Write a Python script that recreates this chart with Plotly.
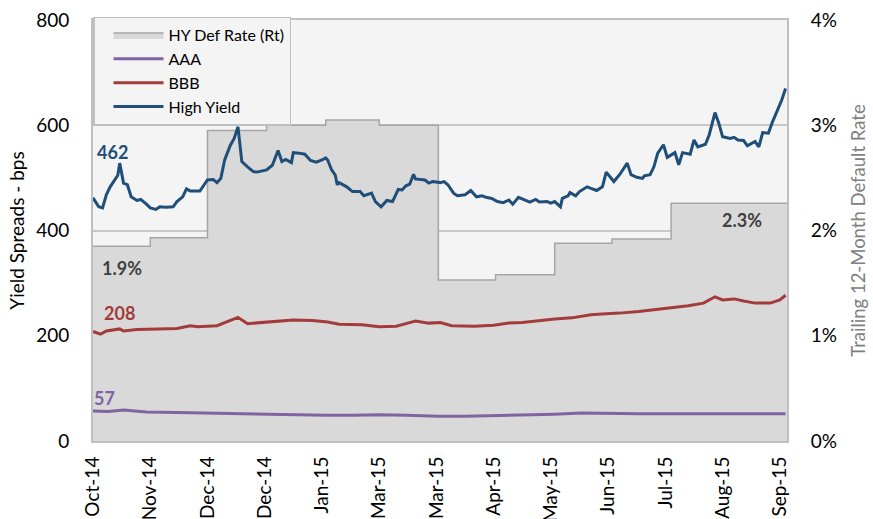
import plotly.graph_objects as go

# ---------------- data ----------------
hy_dates = ["2014-10-02","2014-10-05","2014-10-07","2014-10-09","2014-10-11","2014-10-13","2014-10-15","2014-10-16",
            "2014-10-18","2014-10-20","2014-10-22","2014-10-25","2014-10-27","2014-10-30","2014-11-01","2014-11-04",
            "2014-11-06","2014-11-09","2014-11-13","2014-11-15","2014-11-18","2014-11-20","2014-11-22","2014-11-27",
            "2014-12-01","2014-12-04","2014-12-06","2014-12-08","2014-12-10","2014-12-13","2014-12-15","2014-12-17",
            "2014-12-19","2014-12-22","2014-12-25","2014-12-27","2015-01-01","2015-01-04","2015-01-07","2015-01-09",
            "2015-01-11","2015-01-14","2015-01-15","2015-01-18","2015-01-21","2015-01-24","2015-01-27","2015-01-30",
            "2015-02-01","2015-02-02","2015-02-04","2015-02-06","2015-02-07","2015-02-08","2015-02-12","2015-02-15",
            "2015-02-19","2015-02-21","2015-02-25","2015-02-27","2015-03-02","2015-03-05","2015-03-08","2015-03-11",
            "2015-03-13","2015-03-15","2015-03-17","2015-03-19","2015-03-20","2015-03-25","2015-03-27","2015-03-29",
            "2015-04-02","2015-04-04","2015-04-06","2015-04-09","2015-04-11","2015-04-15","2015-04-18","2015-04-21",
            "2015-04-24","2015-04-26","2015-04-29","2015-05-02","2015-05-05","2015-05-08","2015-05-10","2015-05-13",
            "2015-05-16","2015-05-19","2015-05-22","2015-05-24","2015-05-28","2015-05-30","2015-06-01","2015-06-04",
            "2015-06-05","2015-06-08","2015-06-09","2015-06-12","2015-06-14","2015-06-18","2015-06-20","2015-06-23",
            "2015-06-26","2015-06-28","2015-07-02","2015-07-05","2015-07-09","2015-07-11","2015-07-14","2015-07-17",
            "2015-07-18","2015-07-21","2015-07-23","2015-07-25","2015-07-28","2015-07-30","2015-08-03","2015-08-05",
            "2015-08-07","2015-08-11","2015-08-13","2015-08-15","2015-08-19","2015-08-21","2015-08-24","2015-08-26",
            "2015-08-28","2015-09-01","2015-09-03","2015-09-05","2015-09-08","2015-09-10","2015-09-14","2015-09-16",
            "2015-09-18","2015-09-21","2015-09-23","2015-09-25","2015-09-28","2015-09-30"]
hy_values = [462,445,443,468,483,493,505,528,490,487,464,457,459,450,443,440,
             445,444,445,455,464,479,475,475,496,497,491,499,534,562,575,597,
             531,521,512,511,515,524,552,531,535,529,548,547,545,533,530,534,
             538,534,516,505,487,491,483,474,474,466,471,455,445,457,455,478,
             477,485,488,507,498,496,490,493,491,493,487,471,466,468,476,464,
             466,463,461,455,453,458,450,463,459,454,459,454,455,452,455,445,
             461,466,472,466,474,483,480,476,483,511,493,506,528,506,501,499,
             504,506,521,547,563,539,548,525,548,545,572,559,564,582,624,604,
             578,575,577,572,571,561,569,559,586,585,605,623,648,670]

bbb_dates = ["2014-10-02","2014-10-06","2014-10-09","2014-10-16","2014-10-18","2014-10-25","2014-11-05","2014-11-15",
             "2014-11-22","2014-11-26","2014-12-06","2014-12-12","2014-12-17","2014-12-22","2015-01-01","2015-01-08",
             "2015-01-15","2015-01-25","2015-02-02","2015-02-08","2015-02-20","2015-03-01","2015-03-10","2015-03-17",
             "2015-03-20","2015-03-27","2015-04-02","2015-04-08","2015-04-20","2015-04-30","2015-05-08","2015-05-15",
             "2015-05-25","2015-06-01","2015-06-10","2015-06-20","2015-06-28","2015-07-05","2015-07-15","2015-07-25",
             "2015-08-01","2015-08-10","2015-08-18","2015-08-24","2015-08-28","2015-09-03","2015-09-08","2015-09-14",
             "2015-09-22","2015-09-27","2015-09-30"]
bbb_values = [208,203,209,213,209,212,213,214,
              219,217,219,228,235,223,226,227,
              230,229,226,222,221,217,218,225,
              228,224,225,219,218,220,224,225,
              229,232,234,240,242,243,246,250,
              252,257,262,274,268,270,266,262,
              262,268,277]

aaa_dates = ["2014-10-02","2014-10-10","2014-10-18","2014-10-30","2014-11-15","2014-12-01","2014-12-15","2015-01-01",
             "2015-01-15","2015-02-01","2015-02-15","2015-03-01","2015-03-15","2015-04-01","2015-04-15","2015-05-01",
             "2015-05-15","2015-06-01","2015-06-15","2015-07-01","2015-07-15","2015-08-01","2015-08-15","2015-09-01",
             "2015-09-15","2015-09-30"]
aaa_values = [57,56,59,55,54,53,51,50,
              50,49,49,50,49,47,47,48,
              49,51,53,52,52,52,52,51,
              51,52]

def_dates = ["2014-10-02","2014-11-01","2014-12-01","2015-01-01","2015-02-01","2015-03-01","2015-04-01",
             "2015-05-01","2015-06-01","2015-07-01","2015-08-01","2015-09-01","2015-09-30 23:00"]
def_values = [1.85,1.93,2.95,3.00,3.05,3.00,1.53,1.58,1.88,1.92,2.26,2.26,2.26]

FONT = "Lato"
BLUE = "#1F4E79"
RED = "#A33B3B"
PURPLE = "#8064A2"

fig = go.Figure()
fig.add_trace(go.Scatter(x=def_dates, y=def_values, name="HY Def Rate (Rt)", mode="lines",
                         line=dict(color="#A6A6A6", width=1.5, shape="hv"),
                         fill="tozeroy", fillcolor="#D9D9D9", yaxis="y"))
fig.add_trace(go.Scatter(x=aaa_dates, y=aaa_values, name="AAA", mode="lines",
                         line=dict(color=PURPLE, width=3), yaxis="y2"))
fig.add_trace(go.Scatter(x=bbb_dates, y=bbb_values, name="BBB", mode="lines",
                         line=dict(color=RED, width=3), yaxis="y2"))
fig.add_trace(go.Scatter(x=hy_dates, y=hy_values, name="High Yield", mode="lines",
                         line=dict(color=BLUE, width=3), yaxis="y2"))

ann_font = dict(family=FONT, size=18)
annotations = [
    dict(x="2014-10-12", y=549, text="<b>462</b>", font=dict(color=BLUE, **ann_font)),
    dict(x="2014-10-17", y=329, text="<b>1.9%</b>", font=dict(color="#404040", **ann_font)),
    dict(x="2014-10-16", y=243, text="<b>208</b>", font=dict(color=RED, **ann_font)),
    dict(x="2014-10-08", y=82, text="<b>57</b>", font=dict(color=PURPLE, **ann_font)),
    dict(x="2015-09-07", y=420, text="<b>2.3%</b>", font=dict(color="#404040", **ann_font)),
]
for a in annotations:
    a.update(xref="x", yref="y2", showarrow=False)

fig.update_layout(
    width=873, height=519,
    margin=dict(l=93, r=86, t=20, b=78, autoexpand=False),
    paper_bgcolor="white", plot_bgcolor="#F4F4F4",
    font=dict(family=FONT, size=19, color="#000"),
    showlegend=True,
    legend=dict(x=0, y=1.008, xanchor="left", yanchor="top", bgcolor="#F4F4F4",
                bordercolor="#BFBFBF", borderwidth=1.5, font=dict(family=FONT, size=16),
                tracegroupgap=0, itemwidth=50, indentation=14),
    xaxis=dict(type="date", range=["2014-10-02", "2015-09-30 18:00"], automargin=False,
               tick0="2014-10-02", dtick=30 * 86400000, tickformat="%b-%y", tickangle=-90,
               showgrid=False, showline=True, mirror=True, linecolor="#BFBFBF", linewidth=2,
               ticks="outside", ticklen=6, tickcolor="rgba(0,0,0,0)", tickfont=dict(size=19)),
    yaxis=dict(side="right", range=[0, 4], dtick=1, ticksuffix="%", showgrid=False, zeroline=False,
               automargin=False,
               showline=True, linecolor="#BFBFBF", linewidth=2, ticks="outside", ticklen=18,
               tickcolor="rgba(0,0,0,0)",
               title=dict(text="Trailing 12-Month Default Rate", font=dict(size=18.5, color="#808080"), standoff=16),
               tickfont=dict(size=19)),
    yaxis2=dict(side="left", overlaying="y", range=[0, 800], dtick=200, showgrid=True, gridcolor="#C8C8C8",
                automargin=False,
                gridwidth=1.5, zeroline=False, showline=True, linecolor="#BFBFBF", linewidth=2,
                ticks="outside", ticklen=18, tickcolor="rgba(0,0,0,0)",
                title=dict(text="Yield Spreads - bps", font=dict(size=19), standoff=6),
                tickfont=dict(size=19)),
    annotations=annotations,
)

# remove the browser's default 8px body margin so the figure sits at the page origin
fig.write_html("out.html", config={"displayModeBar": False},
               post_script="document.body.style.margin='0px';")
